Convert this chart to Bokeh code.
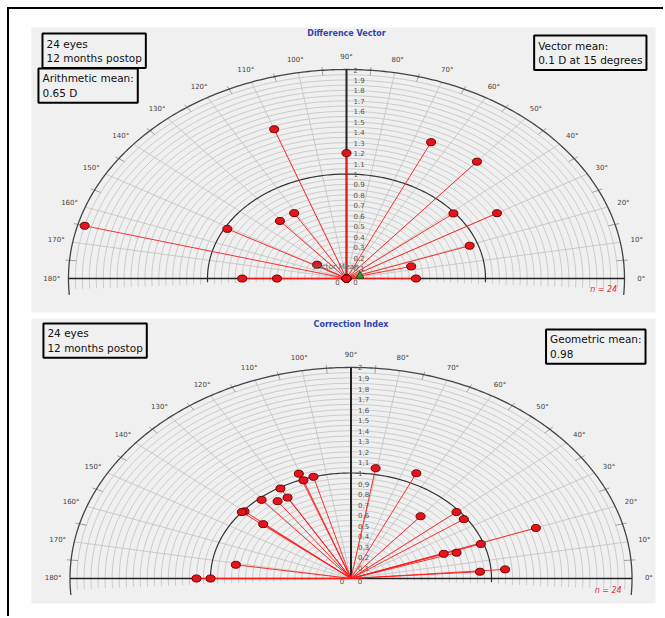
import numpy as np
from bokeh.plotting import figure
from bokeh.models import Label, Range1d, ColumnDataSource
from bokeh.layouts import column
from bokeh.embed import file_html
from bokeh.resources import INLINE
from bokeh.core.properties import value

# ---------------- data ----------------
# Difference Vector (angle in degrees, magnitude in D)
dv_angle = [110, 90, 165, 151, 131, 121, 148, 180, 180, 65, 50, 39, 30, 19.5, 14, 0,
            0, 0, 0, 0, 0, 0, 0, 0]
dv_mag = [1.52, 1.2, 1.95, 0.98, 0.73, 0.73, 0.25, 0.75, 0.5, 1.44, 1.46, 0.99, 1.25, 0.94, 0.48, 0.5,
          0, 0, 0, 0, 0, 0, 0, 0]
dv_mean_angle = [15]
dv_mean_mag = [0.1]

# Correction Index
ci_angle = [110.5, 110, 105.5, 120.5, 130.5, 125.5, 120.5, 140, 141, 140.5, 171, 180, 180,
            80.5, 65, 50, 40, 35, 20, 19.5, 19.5, 18, 4, 4.5]
ci_mag = [1.06, 0.99, 1.0, 0.99, 0.98, 0.90, 0.89, 0.99, 1.0, 0.81, 0.83, 1.0, 1.1,
          1.06, 1.1, 0.77, 0.98, 0.98, 1.40, 0.98, 0.70, 0.79, 0.92, 1.10]

angle_ticks = list(range(0, 181, 10))
radial_ticks = [round(0.1 * i, 1) for i in range(1, 21)]

PANEL_BG = "#f0f0f0"
FONT = "DejaVu Sans"


def pol(r, a):
    t = np.radians(np.asarray(a, dtype=float))
    r = np.asarray(r, dtype=float)
    return r * np.cos(t), r * np.sin(t)


def make_panel(height, xr, yr, btop, bbottom, title, dec_sep, angles, mags, boxes_left, boxes_right,
               n_pos, mean=None):
    p = figure(width=654, height=height, x_range=Range1d(*xr), y_range=Range1d(*yr),
               min_border_left=22, min_border_right=8, min_border_top=btop, min_border_bottom=bbottom,
               background_fill_color=PANEL_BG, border_fill_color="white", outline_line_color=None,
               x_axis_type=None, y_axis_type=None, toolbar_location=None, output_backend="svg",
               title=None)
    p.grid.visible = False

    # concentric grey circles every 0.05
    xs, ys = [], []
    for i in range(1, 40):
        if i == 20:
            continue
        r = 0.05 * i
        t = np.radians(np.linspace(-3, 183, 160))
        xs.append(list(r * np.cos(t)))
        ys.append(list(r * np.sin(t)))
    p.multi_line(xs, ys, line_color="#c2c2c2", line_width=0.8)

    # radial lines every 10 deg
    rx, ry = [], []
    for a in angle_ticks:
        if a in (0, 90, 180):
            continue
        x, y = pol([0, 2], [a, a])
        rx.append(list(x))
        ry.append(list(y))
    p.multi_line(rx, ry, line_color="#c2c2c2", line_width=0.8)

    # minor ticks on outer circle every 5 deg
    tx, ty = [], []
    for a in range(5, 180, 5):
        if a % 10 == 0:
            continue
        x, y = pol([1.95, 2.03], [a, a])
        tx.append(list(x))
        ty.append(list(y))
    p.multi_line(tx, ty, line_color="#8a8a8a", line_width=0.8)

    # unit circle and outer circle
    t = np.radians(np.linspace(-2, 182, 200))
    p.line(np.cos(t), np.sin(t), line_color="#333333", line_width=1.2)
    t = np.radians(np.linspace(-4.5, 184.5, 300))
    p.line(2 * np.cos(t), 2 * np.sin(t), line_color="#444444", line_width=1.3)

    # axes
    p.segment(x0=[-2, 0], y0=[0, 0], x1=[2, 0], y1=[0, 2], line_color="#222222", line_width=[1.6, 2])

    # angle labels
    ax, ay = pol([2.12] * len(angle_ticks), angle_ticks)
    p.text(ax, ay, text=[f"{a}°" for a in angle_ticks], text_align="center", text_baseline="middle",
           text_font=value(FONT), text_font_size="7px", text_color="#444444")

    # radial labels
    rl = [("%g" % v).replace(".", dec_sep) for v in radial_ticks]
    p.text([0] * len(radial_ticks), radial_ticks, text=rl, x_offset=7, text_align="left",
           text_baseline="middle", text_font=value(FONT), text_font_size="7px", text_color="#555555")
    p.text([0, 0], [0, 0], text=["0", "0"], x_offset=[-9, 9], y_offset=[3, 3], text_align="center",
           text_baseline="middle", text_font=value(FONT), text_font_size="7px", text_color="#555555")

    # data
    px, py = pol(mags, angles)
    src = ColumnDataSource(dict(x0=np.zeros(len(px)), y0=np.zeros(len(py)), x=px, y=py))
    p.segment(x0="x0", y0="y0", x1="x", y1="y", source=src, line_color="#ff1a1a", line_width=1,
              line_alpha=0.9)
    p.ellipse(x="x", y="y", width=9, height=7, width_units="screen", height_units="screen", source=src,
              fill_color="#e3141b", line_color="#700000", line_width=1)

    if mean is not None:
        mx, my = pol(mean[1], mean[0])
        p.add_layout(Label(x=float(mx[0]), y=float(my[0]), text="Vector Mean", x_offset=-1, y_offset=5,
                           text_align="right", text_baseline="bottom", text_font=FONT,
                           text_font_size="7.5px", text_color="#666666"))
        p.scatter(mx, my, marker="triangle", size=8, fill_color="#2ca02c", line_color="#0f4f0f")

    # title
    p.add_layout(Label(x=0, y=yr[1], y_offset=-1, text=title, text_align="center", text_baseline="top",
                       text_font=FONT, text_font_size="8px", text_font_style="bold",
                       text_color="#3344aa"))

    # n label
    p.add_layout(Label(x=n_pos[0], y=n_pos[1], text="n = 24", text_align="center", text_baseline="middle",
                       text_font=FONT, text_font_size="8px", text_font_style="italic",
                       text_color="#e03030"))

    # text boxes
    for (bx, by, txt) in boxes_left:
        p.add_layout(Label(x=bx, y=by, text=txt, anchor="top_left", text_font=FONT,
                           text_font_size="10.5px", text_color="#111111", padding=4,
                           border_line_color="black", border_line_width=2,
                           background_fill_color=PANEL_BG))
    for (bx, by, txt) in boxes_right:
        p.add_layout(Label(x=bx, y=by, text=txt, anchor="top_right", text_font=FONT,
                           text_font_size="10.5px", text_color="#111111", padding=4,
                           border_line_color="black", border_line_width=2,
                           background_fill_color=PANEL_BG))
    return p


p1 = make_panel(305, (-2.266, 2.223), (-0.325, 2.402), 18, 2, "Difference Vector", ".",
                dv_angle, dv_mag,
                [(-2.187, 2.344, "24 eyes\n12 months postop"), (-2.216, 2.010, "Arithmetic mean:\n0.65 D")],
                [(2.158, 2.325, "Vector mean:\n0.1 D at 15 degrees")],
                (1.85, -0.105), mean=(dv_mean_angle, dv_mean_mag))

p2 = make_panel(302, (-2.274, 2.167), (-0.237, 2.464), 4, 13, "Correction Index", ",",
                ci_angle, ci_mag,
                [(-2.189, 2.417, "24 eyes\n12 months postop")],
                [(2.096, 2.360, "Geometric mean:\n0.98")],
                (1.83, -0.114))

layout = column(p1, p2, spacing=0, margin=(7, 0, 0, 7),
                styles={"border-top": "2px solid #000", "border-left": "2px solid #000"})

open("out.html", "w").write(file_html(layout, INLINE))
